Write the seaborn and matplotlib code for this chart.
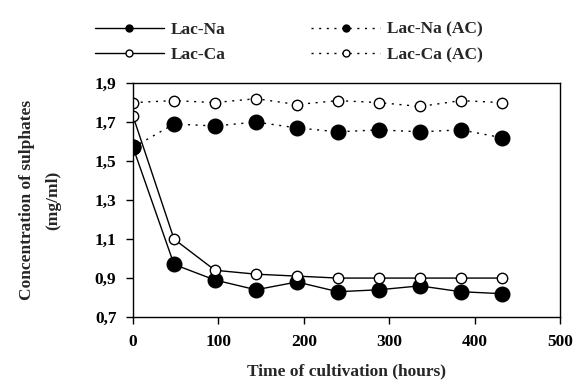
import matplotlib
matplotlib.use("Agg")
import matplotlib.pyplot as plt
import seaborn as sns
import pandas as pd
from matplotlib.ticker import FuncFormatter

hours = [0, 48, 96, 144, 192, 240, 288, 336, 384, 432]
lac_na = [1.57, 0.97, 0.89, 0.84, 0.88, 0.83, 0.84, 0.86, 0.83, 0.82]
lac_ca = [1.73, 1.10, 0.94, 0.92, 0.91, 0.90, 0.90, 0.90, 0.90, 0.90]
lac_na_ac = [1.57, 1.69, 1.68, 1.70, 1.67, 1.65, 1.66, 1.65, 1.66, 1.62]
lac_ca_ac = [1.80, 1.81, 1.80, 1.82, 1.79, 1.81, 1.80, 1.78, 1.81, 1.80]

series_names = ["Lac-Na", "Lac-Ca", "Lac-Na (AC)", "Lac-Ca (AC)"]
series_vals = [lac_na, lac_ca, lac_na_ac, lac_ca_ac]

sns.set_style("ticks")
plt.rcParams['font.family'] = ['Liberation Serif', 'DejaVu Serif']
plt.rcParams['font.weight'] = 'bold'

FS = 12.5
fig = plt.figure(figsize=(5.76, 3.9), dpi=100)
ax = fig.add_axes([0.231, 0.187, 0.741, 0.600])

styles = {
    "Lac-Na": dict(ls='-', mfc='black', ms=10.5),
    "Lac-Ca": dict(ls='-', mfc='white', ms=7.5),
    "Lac-Na (AC)": dict(ls=(0, (1.5, 4)), mfc='black', ms=10.5),
    "Lac-Ca (AC)": dict(ls=(0, (1.5, 4)), mfc='white', ms=7.5),
}

handles = []
for name, vals in zip(series_names, series_vals):
    df = pd.DataFrame({"h": hours, "v": vals})
    st = styles[name]
    sns.lineplot(data=df, x="h", y="v", ax=ax, color='black', lw=1.0,
                 linestyle=st['ls'], marker='o', markersize=st['ms'],
                 markerfacecolor=st['mfc'], markeredgecolor='black',
                 markeredgewidth=1.0, legend=False)
    h, = ax.plot([], [], color='black', lw=1.0, linestyle=st['ls'], marker='o',
                 markersize=5, markerfacecolor=st['mfc'], markeredgecolor='black')
    handles.append(h)

ax.set_xlim(0, 500)
ax.set_ylim(0.7, 1.9)
ax.set_xticks([0, 100, 200, 300, 400, 500])
ax.set_yticks([0.7, 0.9, 1.1, 1.3, 1.5, 1.7, 1.9])
ax.yaxis.set_major_formatter(FuncFormatter(lambda v, p: f"{v:.1f}".replace('.', ',')))
ax.tick_params(direction='out', length=5, width=1, labelsize=FS, colors='black', pad=7)
for lab in ax.get_xticklabels() + ax.get_yticklabels():
    lab.set_fontweight('bold')
for s in ax.spines.values():
    s.set_visible(True)
    s.set_linewidth(1.0)
    s.set_color('black')

ax.set_xlabel("Time of cultivation (hours)", fontsize=FS, fontweight='bold', labelpad=10)
ax.set_ylabel("Concentration of sulphates\n(mg/ml)", fontsize=FS, fontweight='bold',
              labelpad=24, linespacing=1.9)

fig.legend(handles, series_names,
           ncol=2, loc='upper left', bbox_to_anchor=(0.137, 0.985), frameon=False,
           prop={'family': 'Liberation Serif', 'weight': 'bold', 'size': FS},
           handlelength=4.0, columnspacing=4.9, labelspacing=0.55, handletextpad=0.4)

fig.savefig("out.png", dpi=100)
